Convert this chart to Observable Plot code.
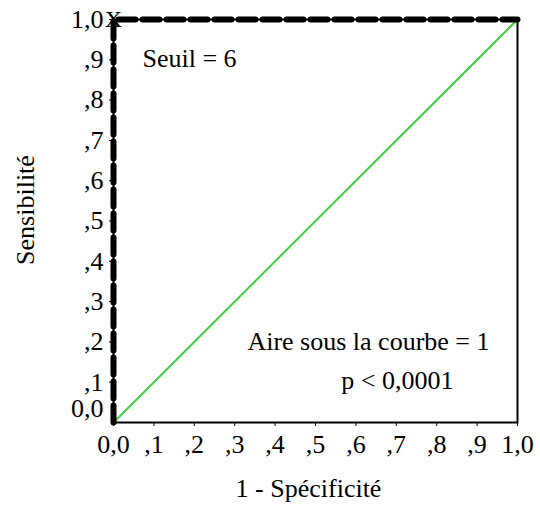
<!DOCTYPE html>
<html><head><meta charset="utf-8">
<script src="https://cdn.jsdelivr.net/npm/d3@7"></script>
<script src="https://cdn.jsdelivr.net/npm/@observablehq/plot@0.6"></script>
<style>body{margin:0;background:#fff}</style>
</head><body><div id="chart"></div>
<script>
const rocX = [0, 0, 1];
const rocY = [0, 1, 1];
const refX = [0, 1];
const refY = [0, 1];
const cutX = [0];
const cutY = [1];
const tickValues = [0, 0.1, 0.2, 0.3, 0.4, 0.5, 0.6, 0.7, 0.8, 0.9, 1];
const tickLabels = ["0,0", ",1", ",2", ",3", ",4", ",5", ",6", ",7", ",8", ",9", "1,0"];
const annotations = ["Seuil = 6", "Aire sous la courbe = 1", "p < 0,0001"];

const fmt = d => tickLabels[tickValues.indexOf(Math.round(d * 10) / 10)];
const font = "Liberation Serif";
const fs = 26;
const roc = rocX.map((x, i) => ({x, y: rocY[i]}));
const ref = refX.map((x, i) => ({x, y: refY[i]}));
const cut = cutX.map((x, i) => ({x, y: cutY[i]}));

const chart = Plot.plot({
  width: 540, height: 509,
  marginLeft: 113, marginRight: 23, marginTop: 19, marginBottom: 87,
  style: {fontFamily: font, fontSize: fs + "px", color: "#000", background: "#fff"},
  x: {domain: [0, 1]},
  y: {domain: [0, 1]},
  marks: [
    Plot.frame({stroke: "#000", strokeWidth: 2}),
    Plot.axisX({ticks: tickValues, tickFormat: fmt, tickSize: 4, tickPadding: 8, tickWidth: 3, fontSize: fs, label: null}),
    Plot.axisY({ticks: tickValues.slice(1), tickFormat: fmt, tickSize: 4, tickPadding: 6, tickWidth: 3, fontSize: fs, label: null}),
    Plot.text([tickLabels[0]], {x: 0, y: 0, dx: -10, dy: -14, textAnchor: "end", fontSize: fs}),
    Plot.line(ref, {x: "x", y: "y", stroke: "#3fcf3f", strokeWidth: 2}),
    Plot.line(roc, {x: "x", y: "y", stroke: "#000", strokeWidth: 6, strokeDasharray: "17,7"}),
    Plot.text(cut, {x: "x", y: "y", text: () => "X", fontSize: fs - 2}),
    Plot.text([annotations[0]], {frameAnchor: "top-left", textAnchor: "start", lineAnchor: "middle", dx: 29, dy: 39, fontSize: fs}),
    Plot.text([annotations[1]], {frameAnchor: "bottom-right", textAnchor: "end", lineAnchor: "middle", dx: -28, dy: -81, fontSize: fs}),
    Plot.text([annotations[2]], {frameAnchor: "bottom-right", textAnchor: "end", lineAnchor: "middle", dx: -64, dy: -42, fontSize: fs}),
    Plot.text(["1 - Spécificité"], {frameAnchor: "bottom", textAnchor: "middle", lineAnchor: "middle", dx: -7, dy: 66, fontSize: fs}),
    Plot.text(["Sensibilité"], {frameAnchor: "left", textAnchor: "middle", lineAnchor: "middle", dx: -88, dy: -11, rotate: -90, fontSize: fs})
  ]
});
document.getElementById("chart").append(chart);
</script>
</body></html>
